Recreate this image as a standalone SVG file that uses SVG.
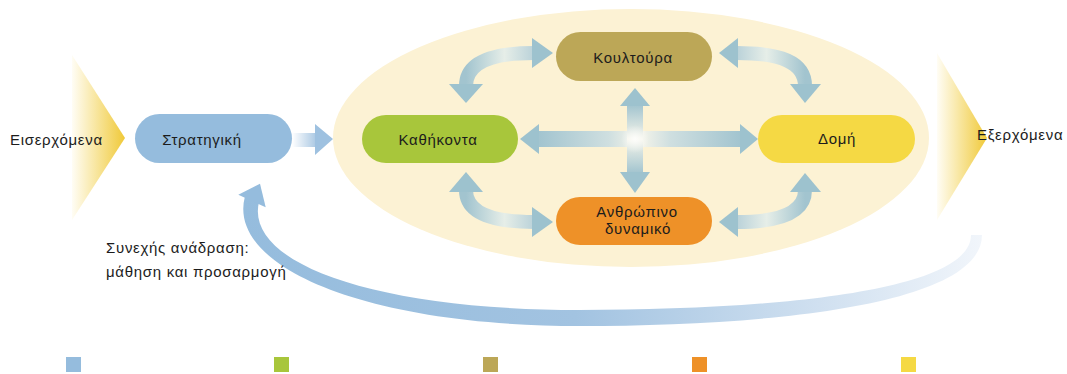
<svg xmlns="http://www.w3.org/2000/svg" width="1067" height="374" viewBox="0 0 1067 374">
<defs>
<linearGradient id="chev" x1="0" y1="0" x2="1" y2="0">
<stop offset="0" stop-color="#fffdf5"/>
<stop offset="0.45" stop-color="#f8e6a0"/>
<stop offset="1" stop-color="#f0c938"/>
</linearGradient>
<linearGradient id="fb" gradientUnits="userSpaceOnUse" x1="240" y1="0" x2="985" y2="0">
<stop offset="0" stop-color="#95bcdd"/>
<stop offset="0.45" stop-color="#a2c3e1"/>
<stop offset="0.8" stop-color="#d3e2f1"/>
<stop offset="1" stop-color="#f2f6fb"/>
</linearGradient>
<linearGradient id="sa" gradientUnits="userSpaceOnUse" x1="292" y1="0" x2="318" y2="0">
<stop offset="0" stop-color="#ffffff"/>
<stop offset="1" stop-color="#a4c4e1"/>
</linearGradient>
<linearGradient id="hz" gradientUnits="userSpaceOnUse" x1="538" y1="0" x2="741" y2="0">
<stop offset="0" stop-color="#a2c4cf"/>
<stop offset="0.35" stop-color="#cfdfe0"/>
<stop offset="0.5" stop-color="#f6f5ea"/>
<stop offset="0.65" stop-color="#cfdfe0"/>
<stop offset="1" stop-color="#a2c4cf"/>
</linearGradient>
<linearGradient id="vt" gradientUnits="userSpaceOnUse" x1="0" y1="105" x2="0" y2="173">
<stop offset="0" stop-color="#a2c4cf"/>
<stop offset="0.5" stop-color="#f6f5ea"/>
<stop offset="1" stop-color="#a2c4cf"/>
</linearGradient>
<linearGradient id="cl" gradientUnits="userSpaceOnUse" x1="466" y1="0" x2="536" y2="0">
<stop offset="0" stop-color="#a2c4cf"/>
<stop offset="0.55" stop-color="#e6eee8"/>
<stop offset="1" stop-color="#b7d0d8"/>
</linearGradient>
<linearGradient id="cr" gradientUnits="userSpaceOnUse" x1="735" y1="0" x2="805" y2="0">
<stop offset="0" stop-color="#b7d0d8"/>
<stop offset="0.45" stop-color="#e6eee8"/>
<stop offset="1" stop-color="#a2c4cf"/>
</linearGradient>
<radialGradient id="glow" cx="0.5" cy="0.5" r="0.5">
<stop offset="0" stop-color="#ffffff" stop-opacity="0.8"/>
<stop offset="1" stop-color="#ffffff" stop-opacity="0"/>
</radialGradient>
</defs>
<style>
text{font-family:"Liberation Sans","DejaVu Sans",sans-serif;font-size:15px;letter-spacing:0.7px;fill:#1c1c1c;}
.c{text-anchor:middle;}
.head{fill:#9dc2ce;}
.body{fill:none;stroke-width:14;}
</style>
<rect width="1067" height="374" fill="#ffffff"/>

<g id="container">
<ellipse cx="631" cy="138" rx="298" ry="129" fill="#fcf2d4"/>
</g>

<g id="n-inputs">
<polygon points="72,55 125,138 72,220" fill="url(#chev)"/>
<text x="10" y="145">Εισερχόμενα</text>
</g>

<g id="n-outputs">
<polygon points="937,53 987,138 937,220" fill="url(#chev)"/>
<text x="977" y="140">Εξερχόμενα</text>
</g>

<g id="connectors">
<path d="M244.8,197 C227,267 366,326 580,326 C765,326 982,306 982,235 L971,235 C971,294 757,310 580,310 C374,310 243,263 259.2,201 Z" fill="url(#fb)"/>
<polygon points="238.3,194.7 260,183.7 265.7,207.3" fill="#95bcdd"/>
<rect x="292" y="133" width="24" height="14" fill="url(#sa)"/>
<polygon points="315,124 333,139 315,155" fill="#9ec1e0"/>
<rect x="538" y="131" width="203" height="16" fill="url(#hz)"/>
<rect x="627" y="105" width="16" height="68" fill="url(#vt)"/>
<circle cx="635" cy="139" r="14" fill="url(#glow)"/>
<polygon class="head" points="539,124 520,139 539,154"/>
<polygon class="head" points="740,124 758,139 740,154"/>
<polygon class="head" points="620,106 635,88 650,106"/>
<polygon class="head" points="620,172 635,193 650,172"/>
<path class="body" d="M534,53 C492,53 466,62 466,86" stroke="url(#cl)"/>
<polygon class="head" points="532,38 553,53 532,68"/>
<polygon class="head" points="449,84 483,84 466,103"/>
<path class="body" d="M466,190 C466,213 492,222 534,222" stroke="url(#cl)"/>
<polygon class="head" points="449,192 483,192 466,172"/>
<polygon class="head" points="532,207 553,222 532,237"/>
<path class="body" d="M737,53 C780,53 805,62 805,86" stroke="url(#cr)"/>
<polygon class="head" points="738,38 719,53 738,68"/>
<polygon class="head" points="790,84 821,84 805,103"/>
<path class="body" d="M805,190 C805,213 780,222 737,222" stroke="url(#cr)"/>
<polygon class="head" points="790,192 821,192 805,173"/>
<polygon class="head" points="738,207 719,222 738,237"/>
</g>

<g id="n-strategy">
<rect x="135" y="114" width="157" height="49" rx="24.5" fill="#95bcdd"/>
<text x="202" y="145" class="c">Στρατηγική</text>
</g>

<g id="n-culture">
<rect x="556" y="32" width="156" height="49" rx="24.5" fill="#bca757"/>
<text x="633" y="63" class="c">Κουλτούρα</text>
</g>

<g id="n-tasks">
<rect x="362" y="115" width="156" height="48" rx="24" fill="#a8c63b"/>
<text x="438" y="145" class="c">Καθήκοντα</text>
</g>

<g id="n-structure">
<rect x="758" y="115" width="157" height="48" rx="24" fill="#f5d944"/>
<text x="837" y="144" class="c">Δομή</text>
</g>

<g id="n-human">
<rect x="556" y="197" width="156" height="48" rx="24" fill="#ee9128"/>
<text x="637" y="217" class="c">Ανθρώπινο</text>
<text x="638" y="234" class="c">δυναμικό</text>
</g>

<g id="feedback-label">
<text x="106" y="253">Συνεχής ανάδραση:</text>
<text x="106" y="277">μάθηση και προσαρμογή</text>
</g>

<g id="legend">
<rect x="66" y="357" width="15" height="15" fill="#95bcdd"/>
<rect x="274" y="357" width="15" height="15" fill="#a8c63b"/>
<rect x="483" y="357" width="15" height="15" fill="#bca757"/>
<rect x="692" y="357" width="15" height="15" fill="#ee9128"/>
<rect x="901" y="357" width="15" height="15" fill="#f5d944"/>
</g>
</svg>
